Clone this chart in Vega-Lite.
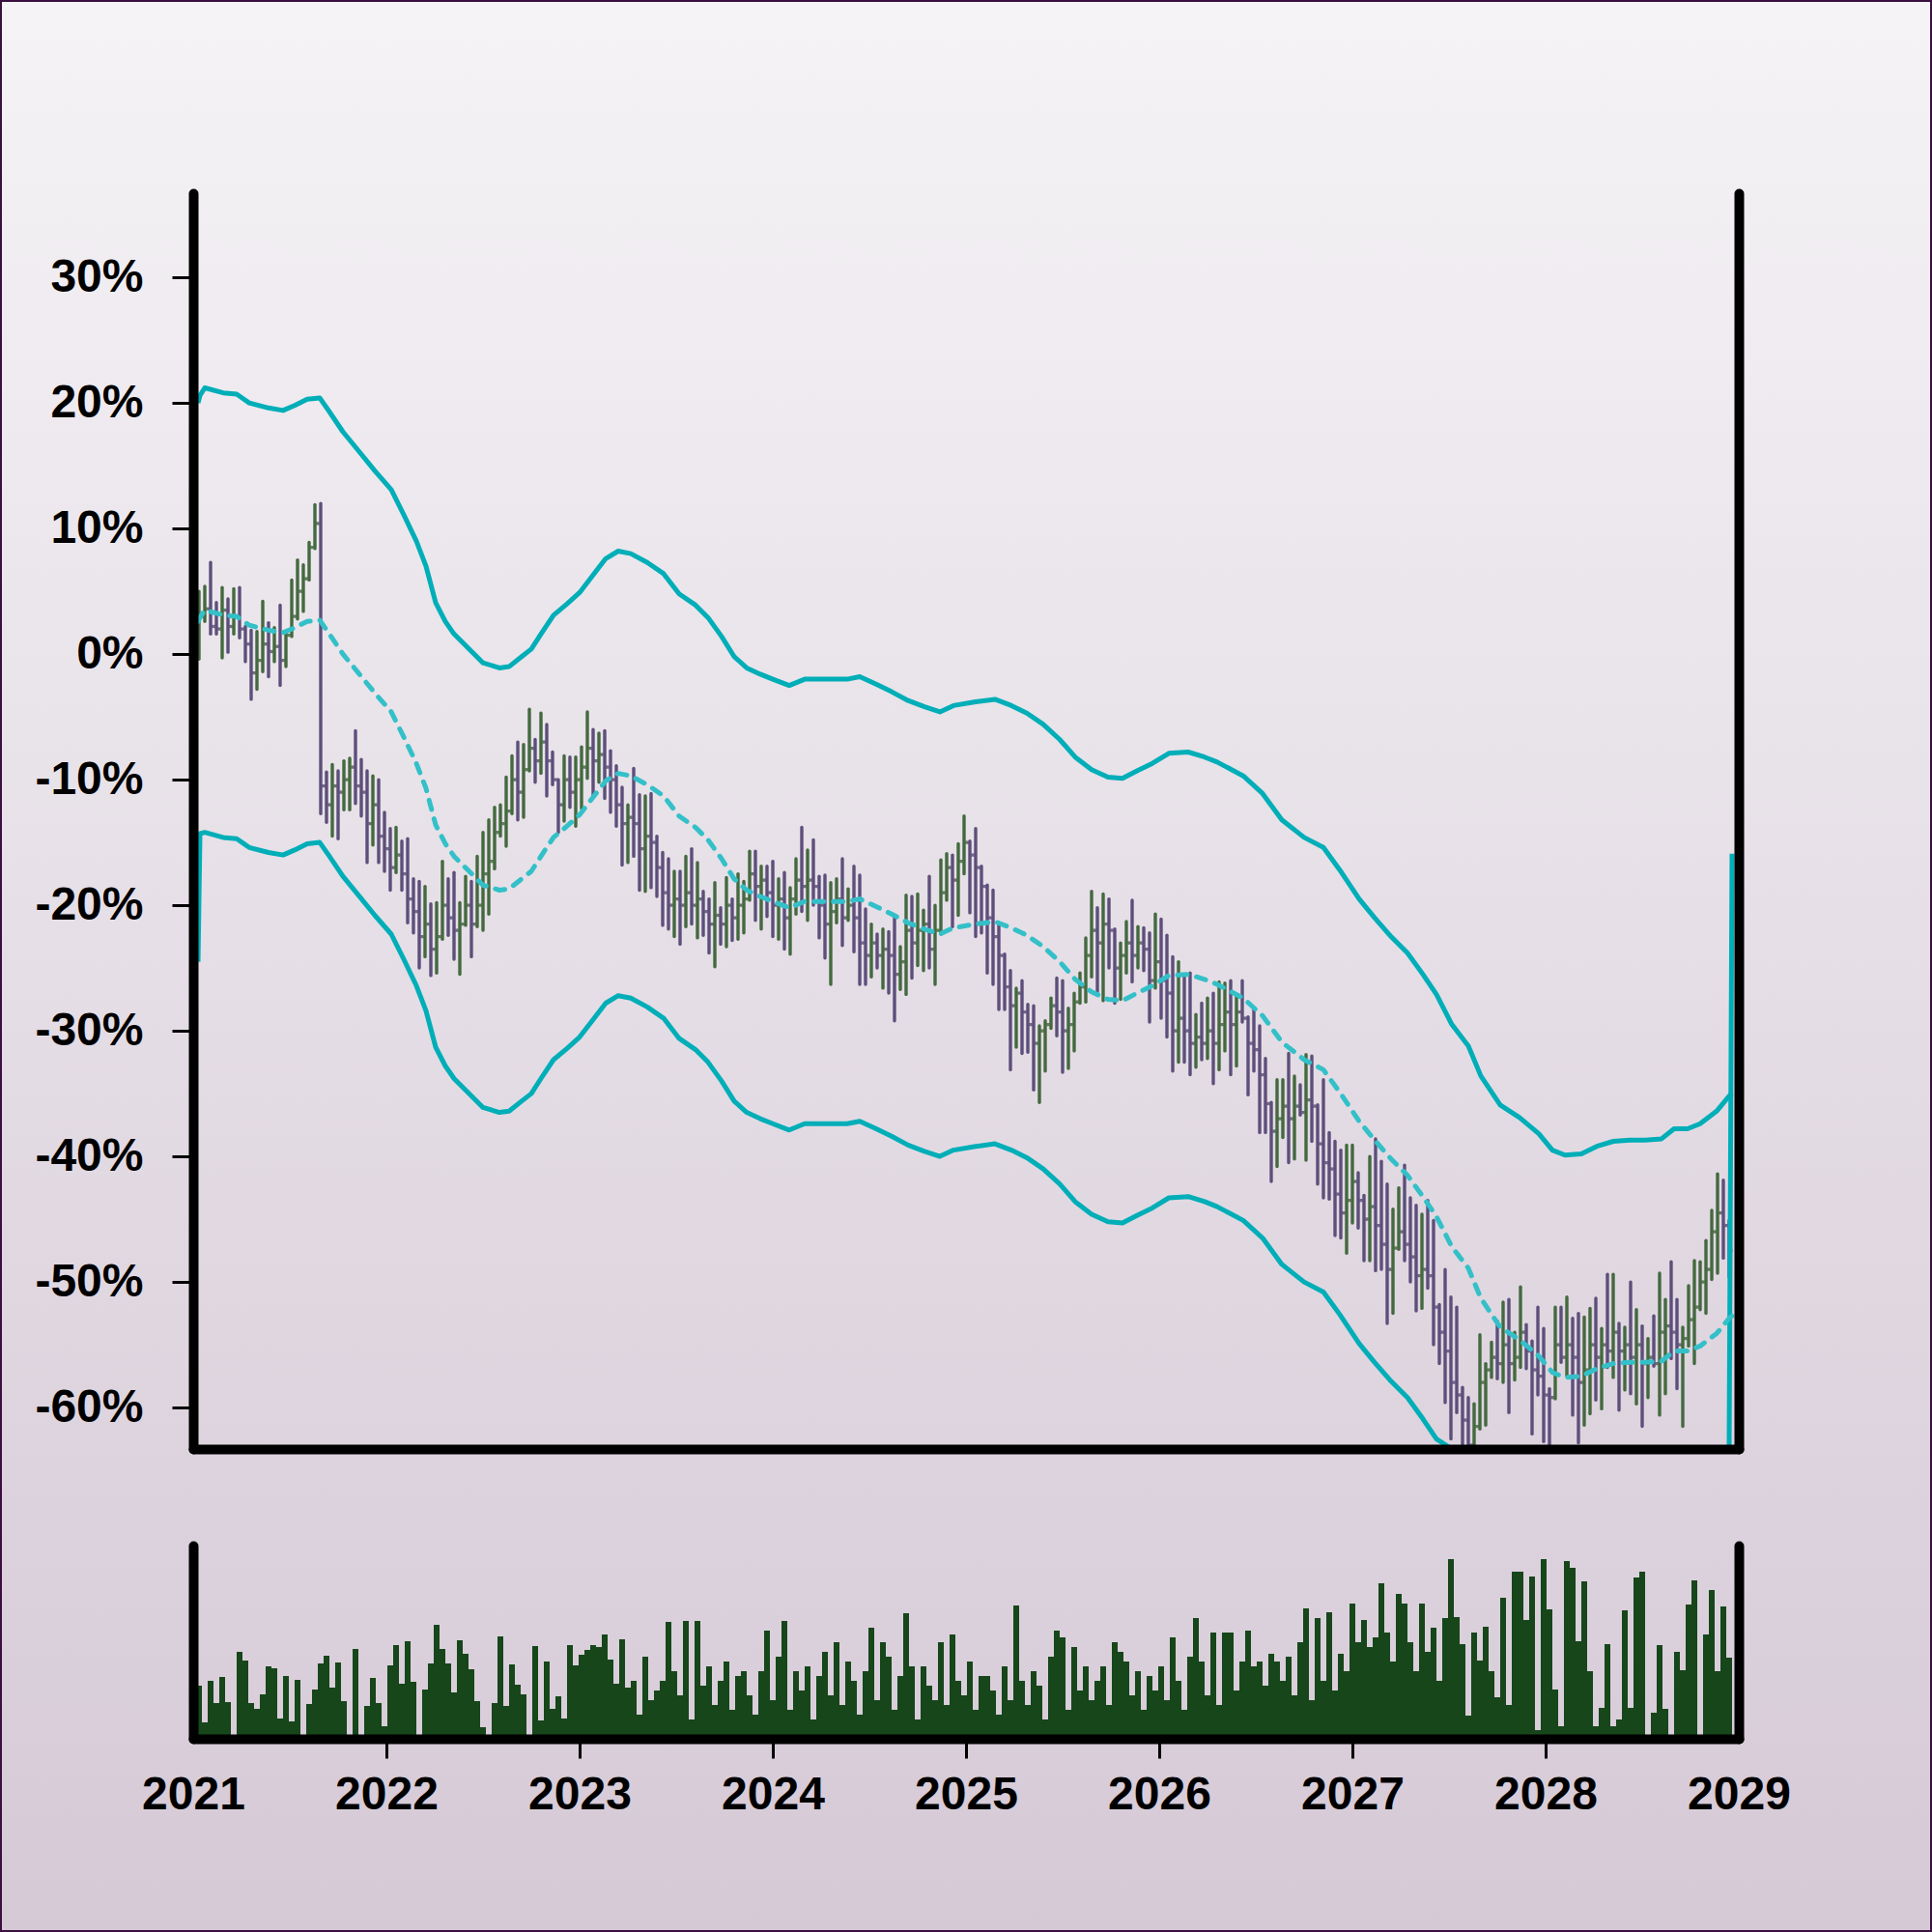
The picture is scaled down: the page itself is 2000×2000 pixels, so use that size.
{
"$schema": "https://vega.github.io/schema/vega-lite/v6.json",
"width": 2000, "height": 2000,
"autosize": {"type": "none"},
"padding": 0,
"background": "#ddd3dd",
"view": {"fill": {"gradient": "linear", "x1": 0, "y1": 0, "x2": 0, "y2": 1, "stops": [{"offset": 0, "color": "#f5f3f6"}, {"offset": 1, "color": "#d5c9d6"}]}, "stroke": "#3b1040", "strokeWidth": 4},
"config": {
  "axis": {"domainColor": "#000000", "domainWidth": 10, "domainCap": "round", "tickColor": "#000000", "tickWidth": 3, "labelColor": "#000000", "labelFont": "Liberation Sans", "labelFontWeight": "bold", "labelFontSize": 48, "grid": false, "zindex": 1}
},
"datasets": {
"bars": [
{"t":2021.03,"o":1.0,"h":5.0,"l":-0.4,"c":3.0,"v":55},
{"t":2021.06,"o":3.0,"h":5.4,"l":2.6,"c":3.6,"v":17},
{"t":2021.09,"o":3.6,"h":7.3,"l":1.6,"c":2.2,"v":60},
{"t":2021.12,"o":2.2,"h":4.1,"l":1.6,"c":2.0,"v":37},
{"t":2021.15,"o":2.0,"h":5.3,"l":-0.3,"c":3.5,"v":64},
{"t":2021.18,"o":3.5,"h":4.4,"l":0.15,"c":2.2,"v":38},
{"t":2021.21,"o":2.2,"h":5.2,"l":1.6,"c":3.0,"v":2},
{"t":2021.24,"o":3.0,"h":5.3,"l":1.3,"c":2.0,"v":90},
{"t":2021.27,"o":2.0,"h":2.2,"l":-0.6,"c":0.8,"v":81},
{"t":2021.30,"o":0.8,"h":1.9,"l":-3.6,"c":-1.5,"v":37},
{"t":2021.33,"o":-1.5,"h":1.8,"l":-2.8,"c":-0.5,"v":31},
{"t":2021.36,"o":-0.5,"h":4.2,"l":-1.4,"c":0.8,"v":46},
{"t":2021.39,"o":0.8,"h":2.5,"l":-1.8,"c":0.2,"v":75},
{"t":2021.42,"o":0.2,"h":2.1,"l":-0.6,"c":0.6,"v":73},
{"t":2021.45,"o":0.6,"h":3.9,"l":-2.5,"c":-0.5,"v":21},
{"t":2021.48,"o":-0.5,"h":1.7,"l":-1.0,"c":1.5,"v":65},
{"t":2021.51,"o":1.5,"h":5.9,"l":1.4,"c":3.0,"v":18},
{"t":2021.54,"o":3.0,"h":7.5,"l":2.8,"c":5.0,"v":61},
{"t":2021.57,"o":5.0,"h":7.1,"l":3.4,"c":6.0,"v":0},
{"t":2021.60,"o":6.0,"h":8.9,"l":5.9,"c":8.5,"v":36},
{"t":2021.63,"o":8.5,"h":11.9,"l":8.4,"c":10.4,"v":51},
{"t":2021.66,"o":10.4,"h":12.0,"l":-12.7,"c":-10.5,"v":78},
{"t":2021.69,"o":-10.5,"h":-9.4,"l":-13.4,"c":-12.0,"v":86},
{"t":2021.72,"o":-12.0,"h":-8.8,"l":-14.5,"c":-10.5,"v":53},
{"t":2021.75,"o":-10.5,"h":-9.3,"l":-14.7,"c":-11.0,"v":79},
{"t":2021.78,"o":-11.0,"h":-8.5,"l":-12.4,"c":-10.0,"v":39},
{"t":2021.81,"o":-10.0,"h":-8.3,"l":-12.4,"c":-9.0,"v":0},
{"t":2021.84,"o":-9.0,"h":-6.1,"l":-11.9,"c":-10.5,"v":93},
{"t":2021.87,"o":-10.5,"h":-8.4,"l":-12.9,"c":-11.0,"v":0},
{"t":2021.90,"o":-11.0,"h":-9.3,"l":-16.6,"c":-13.5,"v":34},
{"t":2021.93,"o":-13.5,"h":-9.7,"l":-15.2,"c":-12.0,"v":63},
{"t":2021.96,"o":-12.0,"h":-10.0,"l":-16.6,"c":-14.5,"v":37},
{"t":2021.99,"o":-14.5,"h":-12.6,"l":-17.3,"c":-15.5,"v":13},
{"t":2022.02,"o":-15.5,"h":-13.9,"l":-18.8,"c":-17.0,"v":76},
{"t":2022.05,"o":-17.0,"h":-13.8,"l":-17.4,"c":-16.0,"v":97},
{"t":2022.08,"o":-16.0,"h":-14.9,"l":-18.8,"c":-17.5,"v":57},
{"t":2022.11,"o":-17.5,"h":-14.7,"l":-21.4,"c":-19.5,"v":101},
{"t":2022.14,"o":-19.5,"h":-17.9,"l":-22.2,"c":-20.5,"v":59},
{"t":2022.17,"o":-20.5,"h":-18.1,"l":-25.0,"c":-22.5,"v":0},
{"t":2022.20,"o":-22.5,"h":-18.5,"l":-24.1,"c":-21.5,"v":51},
{"t":2022.23,"o":-21.5,"h":-19.9,"l":-25.6,"c":-23.5,"v":78},
{"t":2022.26,"o":-23.5,"h":-19.8,"l":-25.4,"c":-22.5,"v":118},
{"t":2022.29,"o":-22.5,"h":-16.5,"l":-22.7,"c":-20.0,"v":93},
{"t":2022.32,"o":-20.0,"h":-17.9,"l":-22.4,"c":-21.0,"v":78},
{"t":2022.35,"o":-21.0,"h":-17.4,"l":-24.3,"c":-22.0,"v":48},
{"t":2022.38,"o":-22.0,"h":-19.8,"l":-25.5,"c":-21.5,"v":102},
{"t":2022.41,"o":-21.5,"h":-17.7,"l":-21.6,"c":-20.0,"v":88},
{"t":2022.44,"o":-20.0,"h":-18.1,"l":-24.1,"c":-21.5,"v":72},
{"t":2022.47,"o":-21.5,"h":-16.1,"l":-21.7,"c":-20.0,"v":39},
{"t":2022.50,"o":-20.0,"h":-14.2,"l":-22.0,"c":-17.5,"v":12},
{"t":2022.53,"o":-17.5,"h":-13.2,"l":-20.7,"c":-16.5,"v":0},
{"t":2022.56,"o":-16.5,"h":-12.2,"l":-17.1,"c":-14.2,"v":37},
{"t":2022.59,"o":-14.2,"h":-12.0,"l":-14.5,"c":-13.5,"v":106},
{"t":2022.62,"o":-13.5,"h":-9.8,"l":-15.3,"c":-12.5,"v":34},
{"t":2022.65,"o":-12.5,"h":-8.1,"l":-12.7,"c":-10.0,"v":77},
{"t":2022.68,"o":-10.0,"h":-7.0,"l":-13.2,"c":-11.0,"v":56},
{"t":2022.71,"o":-11.0,"h":-7.2,"l":-13.0,"c":-9.2,"v":46},
{"t":2022.74,"o":-9.2,"h":-4.4,"l":-9.3,"c":-7.5,"v":0},
{"t":2022.77,"o":-7.5,"h":-6.8,"l":-10.2,"c":-8.5,"v":96},
{"t":2022.80,"o":-8.5,"h":-4.7,"l":-9.5,"c":-7.0,"v":19},
{"t":2022.83,"o":-7.0,"h":-5.6,"l":-11.3,"c":-8.5,"v":80},
{"t":2022.86,"o":-8.5,"h":-7.8,"l":-10.4,"c":-10.0,"v":31},
{"t":2022.89,"o":-10.0,"h":-10.0,"l":-14.2,"c":-12.0,"v":44},
{"t":2022.92,"o":-12.0,"h":-8.1,"l":-13.3,"c":-10.0,"v":21},
{"t":2022.95,"o":-10.0,"h":-8.2,"l":-12.2,"c":-11.0,"v":97},
{"t":2022.98,"o":-11.0,"h":-8.2,"l":-13.7,"c":-10.0,"v":76},
{"t":2023.01,"o":-10.0,"h":-7.4,"l":-12.3,"c":-9.0,"v":87},
{"t":2023.04,"o":-9.0,"h":-4.6,"l":-9.9,"c":-7.5,"v":92},
{"t":2023.07,"o":-7.5,"h":-6.0,"l":-11.2,"c":-8.5,"v":97},
{"t":2023.10,"o":-8.5,"h":-6.3,"l":-10.2,"c":-8.0,"v":95},
{"t":2023.13,"o":-8.0,"h":-6.1,"l":-11.5,"c":-9.0,"v":108},
{"t":2023.16,"o":-9.0,"h":-7.7,"l":-12.6,"c":-10.0,"v":82},
{"t":2023.19,"o":-10.0,"h":-8.9,"l":-13.7,"c":-12.0,"v":57},
{"t":2023.22,"o":-12.0,"h":-10.6,"l":-16.8,"c":-13.5,"v":103},
{"t":2023.25,"o":-13.5,"h":-12.0,"l":-16.6,"c":-13.0,"v":53},
{"t":2023.28,"o":-13.0,"h":-9.1,"l":-16.1,"c":-13.5,"v":60},
{"t":2023.31,"o":-13.5,"h":-11.2,"l":-18.8,"c":-15.5,"v":25},
{"t":2023.34,"o":-15.5,"h":-11.3,"l":-18.9,"c":-14.5,"v":85},
{"t":2023.37,"o":-14.5,"h":-11.1,"l":-18.6,"c":-15.0,"v":40},
{"t":2023.40,"o":-15.0,"h":-14.5,"l":-19.3,"c":-17.0,"v":50},
{"t":2023.43,"o":-17.0,"h":-15.8,"l":-21.6,"c":-19.0,"v":60},
{"t":2023.46,"o":-19.0,"h":-16.3,"l":-21.9,"c":-20.0,"v":121},
{"t":2023.49,"o":-20.0,"h":-17.3,"l":-22.5,"c":-19.5,"v":70},
{"t":2023.52,"o":-19.5,"h":-17.3,"l":-23.1,"c":-20.0,"v":45},
{"t":2023.55,"o":-20.0,"h":-16.1,"l":-21.7,"c":-19.0,"v":122},
{"t":2023.58,"o":-19.0,"h":-15.5,"l":-21.5,"c":-20.0,"v":20},
{"t":2023.61,"o":-20.0,"h":-16.6,"l":-22.6,"c":-19.5,"v":122},
{"t":2023.64,"o":-19.5,"h":-18.9,"l":-22.4,"c":-20.5,"v":55},
{"t":2023.67,"o":-20.5,"h":-19.5,"l":-23.8,"c":-21.5,"v":75},
{"t":2023.70,"o":-21.5,"h":-18.2,"l":-24.9,"c":-20.8,"v":35},
{"t":2023.73,"o":-20.8,"h":-20.2,"l":-23.1,"c":-21.5,"v":60},
{"t":2023.76,"o":-21.5,"h":-17.8,"l":-23.3,"c":-20.0,"v":80},
{"t":2023.79,"o":-20.0,"h":-19.5,"l":-22.8,"c":-21.0,"v":30},
{"t":2023.82,"o":-21.0,"h":-17.5,"l":-22.7,"c":-20.0,"v":65},
{"t":2023.85,"o":-20.0,"h":-18.1,"l":-22.2,"c":-19.5,"v":70},
{"t":2023.88,"o":-19.5,"h":-15.7,"l":-19.6,"c":-17.5,"v":45},
{"t":2023.91,"o":-17.5,"h":-15.7,"l":-21.2,"c":-18.5,"v":25},
{"t":2023.94,"o":-18.5,"h":-16.9,"l":-21.9,"c":-18.0,"v":70},
{"t":2023.97,"o":-18.0,"h":-16.9,"l":-20.9,"c":-19.0,"v":112},
{"t":2024.00,"o":-19.0,"h":-16.5,"l":-22.5,"c":-20.0,"v":40},
{"t":2024.03,"o":-20.0,"h":-17.9,"l":-22.7,"c":-19.5,"v":85},
{"t":2024.06,"o":-19.5,"h":-17.4,"l":-23.5,"c":-21.0,"v":122},
{"t":2024.09,"o":-21.0,"h":-18.6,"l":-23.9,"c":-19.5,"v":30},
{"t":2024.12,"o":-19.5,"h":-16.3,"l":-20.7,"c":-18.0,"v":70},
{"t":2024.15,"o":-18.0,"h":-13.8,"l":-20.5,"c":-18.5,"v":50},
{"t":2024.18,"o":-18.5,"h":-15.6,"l":-21.2,"c":-18.0,"v":75},
{"t":2024.21,"o":-18.0,"h":-14.8,"l":-20.0,"c":-18.5,"v":20},
{"t":2024.24,"o":-18.5,"h":-17.7,"l":-22.6,"c":-20.0,"v":65},
{"t":2024.27,"o":-20.0,"h":-17.6,"l":-24.2,"c":-21.5,"v":90},
{"t":2024.30,"o":-21.5,"h":-18.2,"l":-26.3,"c":-20.5,"v":45},
{"t":2024.33,"o":-20.5,"h":-17.9,"l":-21.4,"c":-19.5,"v":100},
{"t":2024.36,"o":-19.5,"h":-16.3,"l":-23.2,"c":-21.0,"v":35},
{"t":2024.39,"o":-21.0,"h":-18.7,"l":-21.2,"c":-20.0,"v":80},
{"t":2024.42,"o":-20.0,"h":-16.9,"l":-23.7,"c":-21.0,"v":60},
{"t":2024.45,"o":-21.0,"h":-17.6,"l":-26.3,"c":-23.0,"v":25},
{"t":2024.48,"o":-23.0,"h":-20.3,"l":-26.3,"c":-24.0,"v":70},
{"t":2024.51,"o":-24.0,"h":-21.5,"l":-25.7,"c":-23.0,"v":115},
{"t":2024.54,"o":-23.0,"h":-22.3,"l":-25.0,"c":-24.0,"v":40},
{"t":2024.57,"o":-24.0,"h":-21.9,"l":-26.6,"c":-23.5,"v":100},
{"t":2024.60,"o":-23.5,"h":-22.1,"l":-27.0,"c":-24.0,"v":85},
{"t":2024.63,"o":-24.0,"h":-21.0,"l":-29.2,"c":-25.5,"v":30},
{"t":2024.66,"o":-25.5,"h":-23.3,"l":-26.7,"c":-24.5,"v":65},
{"t":2024.69,"o":-24.5,"h":-19.2,"l":-27.1,"c":-22.0,"v":130},
{"t":2024.72,"o":-22.0,"h":-19.3,"l":-25.8,"c":-23.0,"v":75},
{"t":2024.75,"o":-23.0,"h":-19.1,"l":-24.8,"c":-22.0,"v":20},
{"t":2024.78,"o":-22.0,"h":-20.4,"l":-25.2,"c":-21.5,"v":75},
{"t":2024.81,"o":-21.5,"h":-17.7,"l":-25.0,"c":-23.5,"v":55},
{"t":2024.84,"o":-23.5,"h":-20.0,"l":-26.3,"c":-22.0,"v":40},
{"t":2024.87,"o":-22.0,"h":-16.4,"l":-22.3,"c":-19.0,"v":100},
{"t":2024.90,"o":-19.0,"h":-15.9,"l":-19.6,"c":-17.0,"v":35},
{"t":2024.93,"o":-17.0,"h":-16.0,"l":-21.7,"c":-18.0,"v":108},
{"t":2024.96,"o":-18.0,"h":-15.1,"l":-20.8,"c":-16.5,"v":60},
{"t":2024.99,"o":-16.5,"h":-12.9,"l":-17.5,"c":-15.0,"v":45},
{"t":2025.02,"o":-15.0,"h":-14.9,"l":-20.6,"c":-16.0,"v":80},
{"t":2025.05,"o":-16.0,"h":-13.9,"l":-22.5,"c":-17.0,"v":30},
{"t":2025.08,"o":-17.0,"h":-16.9,"l":-22.2,"c":-18.5,"v":65},
{"t":2025.11,"o":-18.5,"h":-18.4,"l":-25.4,"c":-21.0,"v":65},
{"t":2025.14,"o":-21.0,"h":-18.8,"l":-26.3,"c":-22.5,"v":50},
{"t":2025.17,"o":-22.5,"h":-21.4,"l":-28.3,"c":-24.0,"v":25},
{"t":2025.20,"o":-24.0,"h":-23.9,"l":-28.3,"c":-26.5,"v":75},
{"t":2025.23,"o":-26.5,"h":-25.2,"l":-33.1,"c":-28.0,"v":40},
{"t":2025.26,"o":-28.0,"h":-26.6,"l":-31.3,"c":-27.0,"v":138},
{"t":2025.29,"o":-27.0,"h":-26.0,"l":-31.8,"c":-28.5,"v":60},
{"t":2025.32,"o":-28.5,"h":-27.9,"l":-31.7,"c":-29.5,"v":35},
{"t":2025.35,"o":-29.5,"h":-28.0,"l":-34.7,"c":-31.0,"v":70},
{"t":2025.38,"o":-31.0,"h":-29.6,"l":-35.7,"c":-30.0,"v":55},
{"t":2025.41,"o":-30.0,"h":-29.2,"l":-33.2,"c":-29.5,"v":20},
{"t":2025.44,"o":-29.5,"h":-27.4,"l":-29.8,"c":-28.0,"v":85},
{"t":2025.47,"o":-28.0,"h":-25.8,"l":-30.4,"c":-28.5,"v":112},
{"t":2025.50,"o":-28.5,"h":-26.0,"l":-33.3,"c":-30.0,"v":105},
{"t":2025.53,"o":-30.0,"h":-28.2,"l":-33.0,"c":-29.5,"v":30},
{"t":2025.56,"o":-29.5,"h":-27.0,"l":-31.6,"c":-27.7,"v":95},
{"t":2025.59,"o":-27.7,"h":-25.4,"l":-27.8,"c":-26.5,"v":50},
{"t":2025.62,"o":-26.5,"h":-22.6,"l":-27.7,"c":-24.0,"v":75},
{"t":2025.65,"o":-24.0,"h":-18.9,"l":-25.7,"c":-22.0,"v":40},
{"t":2025.68,"o":-22.0,"h":-20.2,"l":-26.9,"c":-23.0,"v":60},
{"t":2025.71,"o":-23.0,"h":-19.1,"l":-27.6,"c":-21.5,"v":75},
{"t":2025.74,"o":-21.5,"h":-19.5,"l":-25.0,"c":-22.0,"v":35},
{"t":2025.77,"o":-22.0,"h":-21.9,"l":-27.8,"c":-25.0,"v":100},
{"t":2025.80,"o":-25.0,"h":-23.0,"l":-27.5,"c":-24.0,"v":90},
{"t":2025.83,"o":-24.0,"h":-21.3,"l":-25.4,"c":-23.0,"v":80},
{"t":2025.86,"o":-23.0,"h":-19.6,"l":-26.1,"c":-24.0,"v":45},
{"t":2025.89,"o":-24.0,"h":-21.7,"l":-25.0,"c":-23.0,"v":70},
{"t":2025.92,"o":-23.0,"h":-21.8,"l":-25.2,"c":-23.5,"v":30},
{"t":2025.95,"o":-23.5,"h":-22.2,"l":-29.3,"c":-26.0,"v":65},
{"t":2025.98,"o":-26.0,"h":-20.7,"l":-26.6,"c":-24.5,"v":50},
{"t":2026.01,"o":-24.5,"h":-21.1,"l":-29.0,"c":-26.0,"v":75},
{"t":2026.04,"o":-26.0,"h":-22.4,"l":-30.5,"c":-27.0,"v":40},
{"t":2026.07,"o":-27.0,"h":-24.1,"l":-33.2,"c":-30.0,"v":105},
{"t":2026.10,"o":-30.0,"h":-24.5,"l":-32.5,"c":-29.0,"v":60},
{"t":2026.13,"o":-29.0,"h":-25.6,"l":-32.5,"c":-30.0,"v":30},
{"t":2026.16,"o":-30.0,"h":-25.4,"l":-33.5,"c":-31.0,"v":85},
{"t":2026.19,"o":-31.0,"h":-28.7,"l":-32.9,"c":-30.5,"v":125},
{"t":2026.22,"o":-30.5,"h":-27.8,"l":-32.3,"c":-31.0,"v":80},
{"t":2026.25,"o":-31.0,"h":-27.4,"l":-32.2,"c":-30.0,"v":45},
{"t":2026.28,"o":-30.0,"h":-27.0,"l":-34.2,"c":-31.0,"v":110},
{"t":2026.31,"o":-31.0,"h":-26.1,"l":-33.1,"c":-29.5,"v":35},
{"t":2026.34,"o":-29.5,"h":-26.2,"l":-31.6,"c":-28.5,"v":110},
{"t":2026.37,"o":-28.5,"h":-26.0,"l":-33.5,"c":-29.5,"v":110},
{"t":2026.40,"o":-29.5,"h":-27.1,"l":-32.8,"c":-28.5,"v":50},
{"t":2026.43,"o":-28.5,"h":-26.0,"l":-29.3,"c":-29.0,"v":80},
{"t":2026.46,"o":-29.0,"h":-28.9,"l":-35.1,"c":-31.0,"v":112},
{"t":2026.49,"o":-31.0,"h":-28.2,"l":-33.2,"c":-31.5,"v":75},
{"t":2026.52,"o":-31.5,"h":-29.6,"l":-38.1,"c":-33.5,"v":80},
{"t":2026.55,"o":-33.5,"h":-32.2,"l":-38.1,"c":-35.8,"v":55},
{"t":2026.58,"o":-35.8,"h":-35.7,"l":-42.0,"c":-38.0,"v":88},
{"t":2026.61,"o":-38.0,"h":-33.9,"l":-40.8,"c":-37.0,"v":80},
{"t":2026.64,"o":-37.0,"h":-33.9,"l":-38.5,"c":-36.0,"v":60},
{"t":2026.67,"o":-36.0,"h":-31.8,"l":-40.5,"c":-37.0,"v":85},
{"t":2026.70,"o":-37.0,"h":-33.6,"l":-40.2,"c":-36.0,"v":45},
{"t":2026.73,"o":-36.0,"h":-34.3,"l":-36.7,"c":-36.5,"v":100},
{"t":2026.76,"o":-36.5,"h":-31.9,"l":-40.3,"c":-35.5,"v":135},
{"t":2026.79,"o":-35.5,"h":-32.0,"l":-38.8,"c":-36.0,"v":40},
{"t":2026.82,"o":-36.0,"h":-35.9,"l":-42.2,"c":-39.0,"v":125},
{"t":2026.85,"o":-39.0,"h":-33.9,"l":-43.3,"c":-40.5,"v":60},
{"t":2026.88,"o":-40.5,"h":-38.1,"l":-43.4,"c":-41.0,"v":131},
{"t":2026.91,"o":-41.0,"h":-38.8,"l":-46.3,"c":-43.0,"v":50},
{"t":2026.94,"o":-43.0,"h":-39.5,"l":-46.5,"c":-44.5,"v":88},
{"t":2026.97,"o":-44.5,"h":-39.1,"l":-47.7,"c":-43.5,"v":70},
{"t":2027.00,"o":-43.5,"h":-39.1,"l":-45.3,"c":-42.0,"v":140},
{"t":2027.03,"o":-42.0,"h":-41.3,"l":-45.7,"c":-43.5,"v":100},
{"t":2027.06,"o":-43.5,"h":-43.1,"l":-48.3,"c":-45.0,"v":123},
{"t":2027.09,"o":-45.0,"h":-40.0,"l":-48.3,"c":-44.0,"v":95},
{"t":2027.12,"o":-44.0,"h":-38.6,"l":-49.1,"c":-45.5,"v":105},
{"t":2027.15,"o":-45.5,"h":-40.4,"l":-49.0,"c":-47.0,"v":161},
{"t":2027.18,"o":-47.0,"h":-42.2,"l":-53.3,"c":-49.0,"v":110},
{"t":2027.21,"o":-49.0,"h":-44.2,"l":-52.5,"c":-47.3,"v":80},
{"t":2027.24,"o":-47.3,"h":-42.5,"l":-47.4,"c":-46.0,"v":150},
{"t":2027.27,"o":-46.0,"h":-40.7,"l":-48.3,"c":-47.0,"v":140},
{"t":2027.30,"o":-47.0,"h":-43.3,"l":-50.0,"c":-48.0,"v":100},
{"t":2027.33,"o":-48.0,"h":-43.9,"l":-52.3,"c":-49.5,"v":70},
{"t":2027.36,"o":-49.5,"h":-44.6,"l":-52.1,"c":-49.0,"v":140},
{"t":2027.39,"o":-49.0,"h":-43.5,"l":-50.5,"c":-49.5,"v":90},
{"t":2027.42,"o":-49.5,"h":-45.1,"l":-55.0,"c":-52.0,"v":115},
{"t":2027.45,"o":-52.0,"h":-51.8,"l":-56.5,"c":-54.0,"v":60},
{"t":2027.48,"o":-54.0,"h":-49.0,"l":-59.6,"c":-55.5,"v":125},
{"t":2027.51,"o":-55.5,"h":-51.2,"l":-62.5,"c":-58.0,"v":186},
{"t":2027.54,"o":-58.0,"h":-52.0,"l":-60.4,"c":-59.0,"v":126},
{"t":2027.57,"o":-59.0,"h":-58.4,"l":-64.5,"c":-61.0,"v":98},
{"t":2027.60,"o":-61.0,"h":-59.2,"l":-65.0,"c":-63.0,"v":24},
{"t":2027.63,"o":-63.0,"h":-59.7,"l":-64.0,"c":-61.5,"v":110},
{"t":2027.66,"o":-61.5,"h":-54.2,"l":-61.7,"c":-58.0,"v":81},
{"t":2027.69,"o":-58.0,"h":-56.5,"l":-61.4,"c":-57.0,"v":116},
{"t":2027.72,"o":-57.0,"h":-54.8,"l":-57.6,"c":-56.0,"v":70},
{"t":2027.75,"o":-56.0,"h":-53.1,"l":-57.7,"c":-56.5,"v":43},
{"t":2027.78,"o":-56.5,"h":-51.6,"l":-58.0,"c":-55.0,"v":146},
{"t":2027.81,"o":-55.0,"h":-51.4,"l":-60.4,"c":-56.5,"v":35},
{"t":2027.84,"o":-56.5,"h":-54.0,"l":-57.8,"c":-56.0,"v":173},
{"t":2027.87,"o":-56.0,"h":-50.4,"l":-56.8,"c":-54.0,"v":173},
{"t":2027.90,"o":-54.0,"h":-53.4,"l":-56.9,"c":-55.5,"v":123},
{"t":2027.93,"o":-55.5,"h":-54.7,"l":-62.1,"c":-57.0,"v":168},
{"t":2027.96,"o":-57.0,"h":-52.0,"l":-59.0,"c":-57.5,"v":9},
{"t":2027.99,"o":-57.5,"h":-53.7,"l":-62.7,"c":-59.0,"v":186},
{"t":2028.02,"o":-59.0,"h":-58.5,"l":-64.5,"c":-59.2,"v":134},
{"t":2028.05,"o":-59.2,"h":-52.0,"l":-59.3,"c":-55.0,"v":51},
{"t":2028.08,"o":-55.0,"h":-52.0,"l":-56.4,"c":-56.0,"v":13},
{"t":2028.11,"o":-56.0,"h":-51.2,"l":-57.5,"c":-55.0,"v":184},
{"t":2028.14,"o":-55.0,"h":-52.9,"l":-60.6,"c":-56.0,"v":177},
{"t":2028.17,"o":-56.0,"h":-52.5,"l":-62.8,"c":-58.0,"v":101},
{"t":2028.20,"o":-58.0,"h":-52.8,"l":-61.4,"c":-57.0,"v":163},
{"t":2028.23,"o":-57.0,"h":-52.1,"l":-60.5,"c":-55.0,"v":70},
{"t":2028.26,"o":-55.0,"h":-51.3,"l":-59.4,"c":-56.0,"v":13},
{"t":2028.29,"o":-56.0,"h":-53.7,"l":-60.1,"c":-55.0,"v":32},
{"t":2028.32,"o":-55.0,"h":-49.4,"l":-56.8,"c":-55.5,"v":98},
{"t":2028.35,"o":-55.5,"h":-49.4,"l":-57.6,"c":-54.0,"v":13},
{"t":2028.38,"o":-54.0,"h":-53.3,"l":-60.2,"c":-55.5,"v":20},
{"t":2028.41,"o":-55.5,"h":-53.6,"l":-58.6,"c":-55.0,"v":133},
{"t":2028.44,"o":-55.0,"h":-50.0,"l":-58.9,"c":-56.0,"v":32},
{"t":2028.47,"o":-56.0,"h":-52.2,"l":-59.7,"c":-55.0,"v":167},
{"t":2028.50,"o":-55.0,"h":-53.5,"l":-61.5,"c":-56.5,"v":173},
{"t":2028.53,"o":-56.5,"h":-54.5,"l":-59.2,"c":-56.0,"v":0},
{"t":2028.56,"o":-56.0,"h":-52.7,"l":-56.7,"c":-56.5,"v":27},
{"t":2028.59,"o":-56.5,"h":-49.3,"l":-60.6,"c":-54.0,"v":97},
{"t":2028.62,"o":-54.0,"h":-51.4,"l":-58.9,"c":-53.5,"v":31},
{"t":2028.65,"o":-53.5,"h":-48.4,"l":-56.1,"c":-54.0,"v":0},
{"t":2028.68,"o":-54.0,"h":-51.4,"l":-58.5,"c":-55.0,"v":90},
{"t":2028.71,"o":-55.0,"h":-53.6,"l":-61.5,"c":-54.5,"v":71},
{"t":2028.74,"o":-54.5,"h":-50.3,"l":-55.1,"c":-53.0,"v":139},
{"t":2028.77,"o":-53.0,"h":-48.3,"l":-56.5,"c":-52.0,"v":164},
{"t":2028.80,"o":-52.0,"h":-48.4,"l":-52.2,"c":-50.0,"v":0},
{"t":2028.83,"o":-50.0,"h":-46.7,"l":-52.5,"c":-49.0,"v":108},
{"t":2028.86,"o":-49.0,"h":-44.3,"l":-49.8,"c":-46.0,"v":154},
{"t":2028.89,"o":-46.0,"h":-41.4,"l":-49.3,"c":-44.5,"v":70},
{"t":2028.92,"o":-44.5,"h":-41.9,"l":-48.1,"c":-45.5,"v":137},
{"t":2028.95,"o":-45.5,"h":-45.1,"l":-49.6,"c":-47.5,"v":84}
],
"bands": [
{"t":2021.025,"m":2.6,"u":20.0,"lo":-24.5},
{"t":2021.035,"m":2.9,"u":20.6,"lo":-14.3},
{"t":2021.06,"m":3.5,"u":21.2,"lo":-14.2},
{"t":2021.155,"m":3.1,"u":20.8,"lo":-14.6},
{"t":2021.225,"m":3.0,"u":20.7,"lo":-14.7},
{"t":2021.29,"m":2.3,"u":20.0,"lo":-15.4},
{"t":2021.39,"m":1.9,"u":19.6,"lo":-15.8},
{"t":2021.465,"m":1.7,"u":19.4,"lo":-16.0},
{"t":2021.525,"m":2.1,"u":19.8,"lo":-15.6},
{"t":2021.59,"m":2.6,"u":20.3,"lo":-15.1},
{"t":2021.655,"m":2.7,"u":20.4,"lo":-15.0},
{"t":2021.705,"m":1.6,"u":19.3,"lo":-16.1},
{"t":2021.775,"m":0.0,"u":17.7,"lo":-17.7},
{"t":2021.855,"m":-1.5,"u":16.2,"lo":-19.2},
{"t":2021.94,"m":-3.1,"u":14.6,"lo":-20.8},
{"t":2022.025,"m":-4.6,"u":13.1,"lo":-22.3},
{"t":2022.09,"m":-6.6,"u":11.1,"lo":-24.3},
{"t":2022.155,"m":-8.7,"u":9.0,"lo":-26.4},
{"t":2022.205,"m":-10.7,"u":7.0,"lo":-28.4},
{"t":2022.255,"m":-13.6,"u":4.1,"lo":-31.3},
{"t":2022.305,"m":-15.1,"u":2.6,"lo":-32.8},
{"t":2022.35,"m":-16.1,"u":1.6,"lo":-33.8},
{"t":2022.435,"m":-17.4,"u":0.3,"lo":-35.1},
{"t":2022.5,"m":-18.4,"u":-0.7,"lo":-36.1},
{"t":2022.585,"m":-18.8,"u":-1.1,"lo":-36.5},
{"t":2022.635,"m":-18.7,"u":-1.0,"lo":-36.4},
{"t":2022.7,"m":-17.9,"u":-0.2,"lo":-35.6},
{"t":2022.75,"m":-17.3,"u":0.4,"lo":-35.0},
{"t":2022.8,"m":-16.1,"u":1.6,"lo":-33.8},
{"t":2022.865,"m":-14.6,"u":3.1,"lo":-32.3},
{"t":2022.935,"m":-13.7,"u":4.0,"lo":-31.4},
{"t":2023.0,"m":-12.8,"u":4.9,"lo":-30.5},
{"t":2023.065,"m":-11.5,"u":6.2,"lo":-29.2},
{"t":2023.135,"m":-10.1,"u":7.6,"lo":-27.8},
{"t":2023.2,"m":-9.5,"u":8.2,"lo":-27.2},
{"t":2023.265,"m":-9.7,"u":8.0,"lo":-27.4},
{"t":2023.35,"m":-10.4,"u":7.3,"lo":-28.1},
{"t":2023.435,"m":-11.3,"u":6.4,"lo":-29.0},
{"t":2023.515,"m":-12.9,"u":4.8,"lo":-30.6},
{"t":2023.6,"m":-13.8,"u":3.9,"lo":-31.5},
{"t":2023.665,"m":-14.8,"u":2.9,"lo":-32.5},
{"t":2023.735,"m":-16.3,"u":1.4,"lo":-34.0},
{"t":2023.8,"m":-17.9,"u":-0.2,"lo":-35.6},
{"t":2023.865,"m":-18.8,"u":-1.1,"lo":-36.5},
{"t":2023.935,"m":-19.3,"u":-1.6,"lo":-37.0},
{"t":2024.0,"m":-19.7,"u":-2.0,"lo":-37.4},
{"t":2024.085,"m":-20.2,"u":-2.5,"lo":-37.9},
{"t":2024.165,"m":-19.7,"u":-2.0,"lo":-37.4},
{"t":2024.25,"m":-19.7,"u":-2.0,"lo":-37.4},
{"t":2024.315,"m":-19.7,"u":-2.0,"lo":-37.4},
{"t":2024.385,"m":-19.7,"u":-2.0,"lo":-37.4},
{"t":2024.45,"m":-19.5,"u":-1.8,"lo":-37.2},
{"t":2024.535,"m":-20.1,"u":-2.4,"lo":-37.8},
{"t":2024.615,"m":-20.7,"u":-3.0,"lo":-38.4},
{"t":2024.7,"m":-21.4,"u":-3.7,"lo":-39.1},
{"t":2024.785,"m":-21.9,"u":-4.2,"lo":-39.6},
{"t":2024.865,"m":-22.3,"u":-4.6,"lo":-40.0},
{"t":2024.935,"m":-21.8,"u":-4.1,"lo":-39.5},
{"t":2025.05,"m":-21.5,"u":-3.8,"lo":-39.2},
{"t":2025.15,"m":-21.3,"u":-3.6,"lo":-39.0},
{"t":2025.235,"m":-21.8,"u":-4.1,"lo":-39.5},
{"t":2025.315,"m":-22.4,"u":-4.7,"lo":-40.1},
{"t":2025.4,"m":-23.3,"u":-5.6,"lo":-41.0},
{"t":2025.485,"m":-24.5,"u":-6.8,"lo":-42.2},
{"t":2025.565,"m":-25.9,"u":-8.2,"lo":-43.6},
{"t":2025.65,"m":-26.9,"u":-9.2,"lo":-44.6},
{"t":2025.735,"m":-27.5,"u":-9.8,"lo":-45.2},
{"t":2025.81,"m":-27.6,"u":-9.9,"lo":-45.3},
{"t":2025.885,"m":-27.0,"u":-9.3,"lo":-44.7},
{"t":2025.965,"m":-26.4,"u":-8.7,"lo":-44.1},
{"t":2026.05,"m":-25.6,"u":-7.9,"lo":-43.3},
{"t":2026.15,"m":-25.5,"u":-7.8,"lo":-43.2},
{"t":2026.235,"m":-25.9,"u":-8.2,"lo":-43.6},
{"t":2026.3,"m":-26.3,"u":-8.6,"lo":-44.0},
{"t":2026.435,"m":-27.4,"u":-9.7,"lo":-45.1},
{"t":2026.535,"m":-28.8,"u":-11.1,"lo":-46.5},
{"t":2026.635,"m":-30.9,"u":-13.2,"lo":-48.6},
{"t":2026.75,"m":-32.3,"u":-14.6,"lo":-50.0},
{"t":2026.85,"m":-33.1,"u":-15.4,"lo":-50.8},
{"t":2026.935,"m":-34.9,"u":-17.2,"lo":-52.6},
{"t":2027.035,"m":-37.2,"u":-19.5,"lo":-54.9},
{"t":2027.115,"m":-38.7,"u":-21.0,"lo":-56.4},
{"t":2027.2,"m":-40.2,"u":-22.5,"lo":-57.9},
{"t":2027.285,"m":-41.5,"u":-23.8,"lo":-59.2},
{"t":2027.365,"m":-43.2,"u":-25.5,"lo":-60.9},
{"t":2027.435,"m":-44.8,"u":-27.1,"lo":-62.5},
{"t":2027.515,"m":-47.2,"u":-29.5,"lo":-64.9},
{"t":2027.6,"m":-48.9,"u":-31.2,"lo":-66.6},
{"t":2027.665,"m":-51.3,"u":-33.6,"lo":-69.0},
{"t":2027.765,"m":-53.6,"u":-35.9,"lo":-71.3},
{"t":2027.865,"m":-54.6,"u":-36.9,"lo":-72.3},
{"t":2027.965,"m":-55.9,"u":-38.2,"lo":-73.6},
{"t":2028.035,"m":-57.2,"u":-39.5,"lo":-74.9},
{"t":2028.1,"m":-57.6,"u":-39.9,"lo":-75.3},
{"t":2028.185,"m":-57.5,"u":-39.8,"lo":-75.2},
{"t":2028.265,"m":-56.9,"u":-39.2,"lo":-74.6},
{"t":2028.35,"m":-56.5,"u":-38.8,"lo":-74.2},
{"t":2028.435,"m":-56.4,"u":-38.7,"lo":-74.1},
{"t":2028.515,"m":-56.4,"u":-38.7,"lo":-74.1},
{"t":2028.6,"m":-56.3,"u":-38.6,"lo":-74.0},
{"t":2028.665,"m":-55.5,"u":-37.8,"lo":-73.2},
{"t":2028.735,"m":-55.5,"u":-37.8,"lo":-73.2},
{"t":2028.8,"m":-55.1,"u":-37.4,"lo":-72.8},
{"t":2028.885,"m":-54.1,"u":-36.4,"lo":-71.8},
{"t":2028.95,"m":-52.9,"u":-35.2,"lo":-70.6},
{"t":2028.965,"m":-52.7,"u":-35.0,"lo":-15.9}
]
},
"resolve": {"scale": {"y": "independent"}, "axis": {"x": "independent", "y": "independent"}},
"layer": [
{
 "data": {"name": "bars"},
 "mark": {"type": "bar", "color": "#16461a", "size": 6},
 "encoding": {
  "x": {"field": "t", "type": "quantitative", "scale": {"domain": [2021, 2029], "range": [200, 1800], "nice": false, "zero": false, "padding": 0},
        "axis": {"orient": "bottom", "offset": -200, "zindex": 1, "values": [2021,2022,2023,2024,2025,2026,2027,2028,2029], "format": "d", "labelFlush": false, "labelOverlap": false, "tickSize": 20, "labelPadding": 14, "tickOpacity": {"condition": {"test": "datum.value == 2021 || datum.value == 2029", "value": 0}, "value": 1}, "title": null}},
  "y": {"field": "v", "type": "quantitative", "scale": {"domain": [0, 200], "range": [1800, 1600], "nice": false, "zero": true, "padding": 0},
        "axis": {"orient": "left", "offset": -200, "zindex": 1, "labels": false, "ticks": false, "title": null}}
 }
},
{
 "data": {"name": "bars"},
 "mark": {"type": "bar", "color": "#16461a", "size": 6, "opacity": 0},
 "encoding": {
  "x": {"field": "t", "type": "quantitative", "scale": {"domain": [2021, 2029], "range": [200, 1800], "nice": false, "zero": false, "padding": 0}, "axis": null},
  "y": {"field": "v", "type": "quantitative", "scale": {"domain": [0, 200], "range": [1800, 1600], "nice": false, "zero": true, "padding": 0},
        "axis": {"orient": "right", "offset": -200, "zindex": 1, "labels": false, "ticks": false, "title": null}}
 }
},
{
 "data": {"name": "bars"},
 "mark": {"type": "rule", "strokeWidth": 3.4, "strokeCap": "round"},
 "encoding": {
  "x": {"field": "t", "type": "quantitative", "scale": {"domain": [2021, 2029], "range": [200, 1800], "nice": false, "zero": false, "padding": 0},
        "axis": {"orient": "bottom", "offset": -500, "zindex": 1, "labels": false, "ticks": false, "title": null}},
  "y": {"field": "l", "type": "quantitative", "scale": {"domain": [-63.3, 36.7], "range": [1500, 200], "clamp": true, "nice": false, "zero": false, "padding": 0},
        "axis": {"orient": "left", "offset": -200, "zindex": 1, "values": [-60,-50,-40,-30,-20,-10,0,10,20,30], "tickSize": 22, "labelPadding": 30, "labelExpr": "datum.value + '%'", "title": null}},
  "y2": {"field": "h"},
  "color": {"condition": {"test": "datum.c >= datum.o", "value": "#44693f"}, "value": "#5d4f7b"}
 }
},
{
 "data": {"name": "bars"},
 "mark": {"type": "tick", "orient": "horizontal", "size": 3.6, "thickness": 3.2, "xOffset": -1.8},
 "encoding": {
  "x": {"field": "t", "type": "quantitative", "scale": {"domain": [2021, 2029], "range": [200, 1800], "nice": false, "zero": false, "padding": 0}, "axis": null},
  "y": {"field": "o", "type": "quantitative", "scale": {"domain": [-63.3, 36.7], "range": [1500, 200], "clamp": true, "nice": false, "zero": false, "padding": 0}, "axis": null},
  "color": {"condition": {"test": "datum.c >= datum.o", "value": "#44693f"}, "value": "#5d4f7b"}
 }
},
{
 "data": {"name": "bars"},
 "mark": {"type": "tick", "orient": "horizontal", "size": 3.6, "thickness": 3.2, "xOffset": 1.8},
 "encoding": {
  "x": {"field": "t", "type": "quantitative", "scale": {"domain": [2021, 2029], "range": [200, 1800], "nice": false, "zero": false, "padding": 0}, "axis": null},
  "y": {"field": "c", "type": "quantitative", "scale": {"domain": [-63.3, 36.7], "range": [1500, 200], "clamp": true, "nice": false, "zero": false, "padding": 0}, "axis": null},
  "color": {"condition": {"test": "datum.c >= datum.o", "value": "#44693f"}, "value": "#5d4f7b"}
 }
},
{
 "data": {"name": "bands"},
 "mark": {"type": "line", "color": "#00aeb8", "strokeWidth": 5, "strokeJoin": "round"},
 "encoding": {
  "x": {"field": "t", "type": "quantitative", "scale": {"domain": [2021, 2029], "range": [200, 1800], "nice": false, "zero": false, "padding": 0}, "axis": null},
  "y": {"field": "u", "type": "quantitative", "scale": {"domain": [-63.3, 36.7], "range": [1500, 200], "clamp": true, "nice": false, "zero": false, "padding": 0},
        "axis": {"orient": "right", "offset": -200, "zindex": 1, "labels": false, "ticks": false, "title": null}}
 }
},
{
 "data": {"name": "bands"},
 "mark": {"type": "line", "color": "#00aeb8", "strokeWidth": 5, "strokeJoin": "round"},
 "encoding": {
  "x": {"field": "t", "type": "quantitative", "scale": {"domain": [2021, 2029], "range": [200, 1800], "nice": false, "zero": false, "padding": 0}, "axis": null},
  "y": {"field": "lo", "type": "quantitative", "scale": {"domain": [-63.3, 36.7], "range": [1500, 200], "clamp": true, "nice": false, "zero": false, "padding": 0}, "axis": null}
 }
},
{
 "data": {"name": "bands"},
 "mark": {"type": "line", "color": "#33c0c8", "strokeWidth": 5, "strokeDash": [10, 10], "strokeCap": "round", "strokeJoin": "round"},
 "encoding": {
  "x": {"field": "t", "type": "quantitative", "scale": {"domain": [2021, 2029], "range": [200, 1800], "nice": false, "zero": false, "padding": 0}, "axis": null},
  "y": {"field": "m", "type": "quantitative", "scale": {"domain": [-63.3, 36.7], "range": [1500, 200], "clamp": true, "nice": false, "zero": false, "padding": 0}, "axis": null}
 }
}
]
}
